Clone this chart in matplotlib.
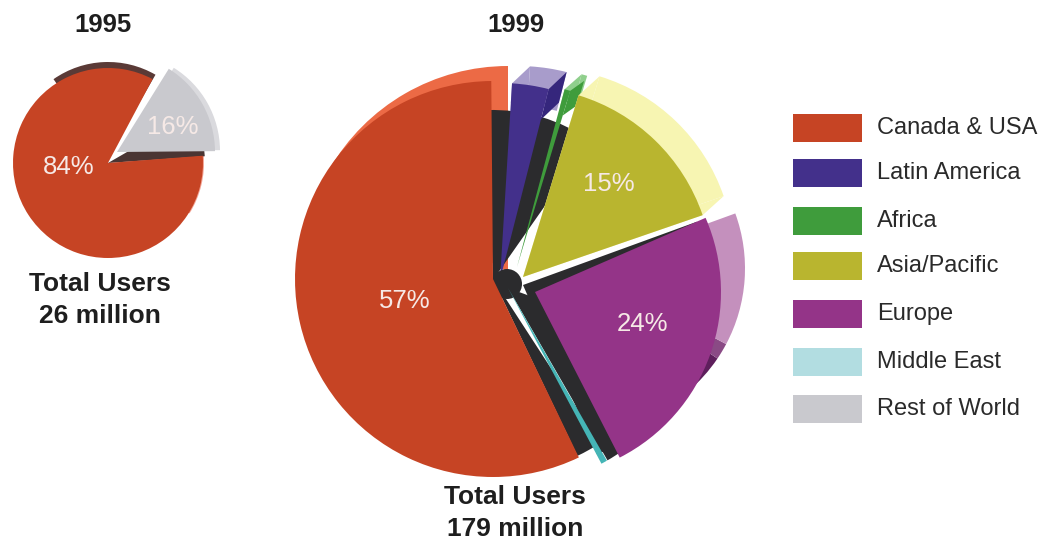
import numpy as np
import matplotlib
matplotlib.use("Agg")
import matplotlib.pyplot as plt
from matplotlib.patches import Wedge, Polygon, Rectangle, Circle

plt.rcParams["font.family"] = ["Liberation Sans", "DejaVu Sans"]

# Regional shares of internet users (percent)
regions = ["Canada & USA", "Latin America", "Africa", "Asia/Pacific",
           "Europe", "Middle East", "Rest of World"]
shares_1995 = {"Canada & USA": 84, "Rest of World": 16}
shares_1999 = {"Canada & USA": 57, "Latin America": 3, "Africa": 0.5,
               "Asia/Pacific": 15, "Europe": 24, "Middle East": 0.5}
years = ["1995", "1999"]
totals = ["26 million", "179 million"]

# Swatch colours plus the tints used for the raised faces
face = {"Canada & USA": "#C64424", "Latin America": "#43308B", "Africa": "#3F9C3C",
        "Asia/Pacific": "#B9B52F", "Europe": "#943488", "Middle East": "#B2DDE1",
        "Rest of World": "#C9C9CE"}
DARK = "#2B2B2D"

fig = plt.figure(figsize=(10.4, 5.39), dpi=100)
ax = fig.add_axes([0, 0, 1, 1])
ax.set_xlim(0, 1040)
ax.set_ylim(0, 539)
ax.axis("off")


def Y(y):
    return 539 - y


def sector(value, start, apex, radius, color, shift=(0, 0), width=None, z=1):
    """Clockwise sector whose sweep comes from its percentage."""
    sweep = value * 3.6
    ax.add_patch(Wedge((apex[0] + shift[0], Y(apex[1] + shift[1])), radius,
                       start - sweep, start, width=width, facecolor=color,
                       edgecolor="none", zorder=z))


def arc_band(centre, radius, theta1, theta2, color, z, width=None):
    """Decorative band used for rims and shadows."""
    ax.add_patch(Wedge((centre[0], Y(centre[1])), radius, theta1, theta2, width=width,
                       facecolor=color, edgecolor="none", zorder=z))


def side(value, start, apex, radius, shift, color, edge, frac=1.0, z=1):
    """Extruded wall along one straight edge of a sector."""
    angle = np.radians(start - (value * 3.6 if edge == "right" else 0))
    tip = np.array([apex[0] + radius * np.cos(angle), apex[1] - radius * np.sin(angle)])
    foot = tip + (np.array(apex) - tip) * frac
    pts = [tip, tip + shift, foot + shift, foot]
    ax.add_patch(Polygon([(p[0], Y(p[1])) for p in pts], closed=True,
                         facecolor=color, edgecolor="none", zorder=z))


# ---- 1995 pie ----
small_apex = (108, 163)
arc_band((108, 157), 95, 60, 125, "#5A3A36", 1)                 # back crescent
arc_band((109, 163), 95, -32, 5, "#F4A394", 1)                  # pale right edge
sector(shares_1995["Canada & USA"], 62 + 302.4, small_apex, 95, face["Canada & USA"], z=2)
arc_band(small_apex, 97, 4, 30, "#4A3533", 1.5)                 # wall under the lifted slice
grey_apex = (117, 152)
sector(shares_1995["Rest of World"], 58.1, grey_apex, 98, "#DADADE", shift=(5, -1), z=3)
sector(shares_1995["Rest of World"], 58.1, grey_apex, 98, face["Rest of World"], z=4)

# ---- 1999 pie ----
# Canada & USA rim and the dark fan behind the narrow slices
arc_band((508, 272), 206, 90, 150, "#EC6A45", 1)
arc_band((493, 280), 170, 55, 92, DARK, 2)

# Latin America
v = shares_1999["Latin America"]
lat = dict(start=86.5, apex=(500, 280), radius=197)
sector(v, **lat, color="#A89CCB", shift=(18, -17), width=40, z=3)
side(v, lat["start"], lat["apex"], lat["radius"], (18, -17), "#A89CCB", "left", frac=0.1, z=3)
side(v, lat["start"], lat["apex"], lat["radius"], (18, -17), "#35267C", "right", frac=0.16, z=4)
sector(v, **lat, color=face["Latin America"], z=5)

# Africa
v = shares_1999["Africa"]
afr = dict(start=75, apex=(517, 267), radius=184)
sector(v, **afr, color="#8FCF8C", shift=(17, -15), width=30, z=3)
side(v, afr["start"], afr["apex"], afr["radius"], (17, -15), "#8FCF8C", "left", frac=0.1, z=3)
side(v, afr["start"], afr["apex"], afr["radius"], (14, -10), face["Africa"], "right", frac=0.14, z=4)
sector(v, **afr, color=face["Africa"], z=5)

# Dark hub where the slices meet
ax.add_patch(Circle((507, Y(284)), 15, facecolor=DARK, edgecolor="none", zorder=5.1))

# Asia/Pacific
v = shares_1999["Asia/Pacific"]
asi = dict(start=73, apex=(523, 277), radius=190)
sector(v, **asi, color="#F7F5B2", shift=(21, -19), z=5)
side(v, asi["start"], asi["apex"], asi["radius"], (21, -19), "#F7F5B2", "left", z=5)
side(v, asi["start"], asi["apex"], asi["radius"], (21, -19), "#F7F5B2", "right", z=5)
sector(v, **asi, color=face["Asia/Pacific"], z=6)

# Europe: dark walls, light rim, deep shadow on the lower arc, then the face
v = shares_1999["Europe"]
eur = dict(start=23.5, apex=(535, 292), radius=186)
sector(v, 20, (523, 285), 185, DARK, z=5.1)
arc_band((508, 288), 199, -60, -20, DARK, 5.1)
arc_band((584, 268.5), 161, -66, -34, "#5E1F5C", 5.2, width=70)
arc_band((584, 268.5), 161, -34, -28, "#8A4A85", 5.2, width=70)
arc_band((584, 268.5), 161, -28, 20, "#C490BD", 5.3, width=70)
sector(v, **eur, color=face["Europe"], z=6)

# Middle East with the dark wall beside it
arc_band((493, 279), 196, -64.5, -57, DARK, 5.1)
sector(shares_1999["Middle East"], -60.2, (508, 288), 199, "#45B5B6", z=6.4)

# Canada & USA face sits over everything near the middle
sector(shares_1999["Canada & USA"], 295.7, (493, 279), 198, face["Canada & USA"], z=7)


# ---- text ----
def label(x, y, s, **kw):
    ax.text(x, Y(y), s, ha="center", va="center", zorder=10, **kw)


for x, year in zip((103, 516), years):
    label(x, 25, year, fontsize=18.5, fontweight="bold", color="#1E1E1E")
for (x, y), total in zip(((100, 284), (515, 497)), totals):
    label(x, y, "Total Users", fontsize=19, fontweight="bold", color="#1E1E1E")
    label(x, y + 32, total, fontsize=19, fontweight="bold", color="#1E1E1E")

pct_pos = {"84%": (69, 167), "16%": (173, 127), "57%": (405, 301),
           "15%": (609, 184), "24%": (642, 324)}
pct_val = {"84%": shares_1995["Canada & USA"], "16%": shares_1995["Rest of World"],
           "57%": shares_1999["Canada & USA"], "15%": shares_1999["Asia/Pacific"],
           "24%": shares_1999["Europe"]}
for key, (x, y) in pct_pos.items():
    label(x, y, f"{pct_val[key]}%", fontsize=18.5, color="#F6E9E6")

# ---- legend ----
rows = [128, 173, 221, 266, 314, 362, 409]
for row, name in zip(rows, regions):
    ax.add_patch(Rectangle((793, Y(row + 14)), 69, 28, facecolor=face[name],
                           edgecolor="none", zorder=2))
    ax.text(877, Y(row), name, ha="left", va="center", fontsize=17, color="#2A2A2A", zorder=3)

fig.savefig("out.png", dpi=100)
